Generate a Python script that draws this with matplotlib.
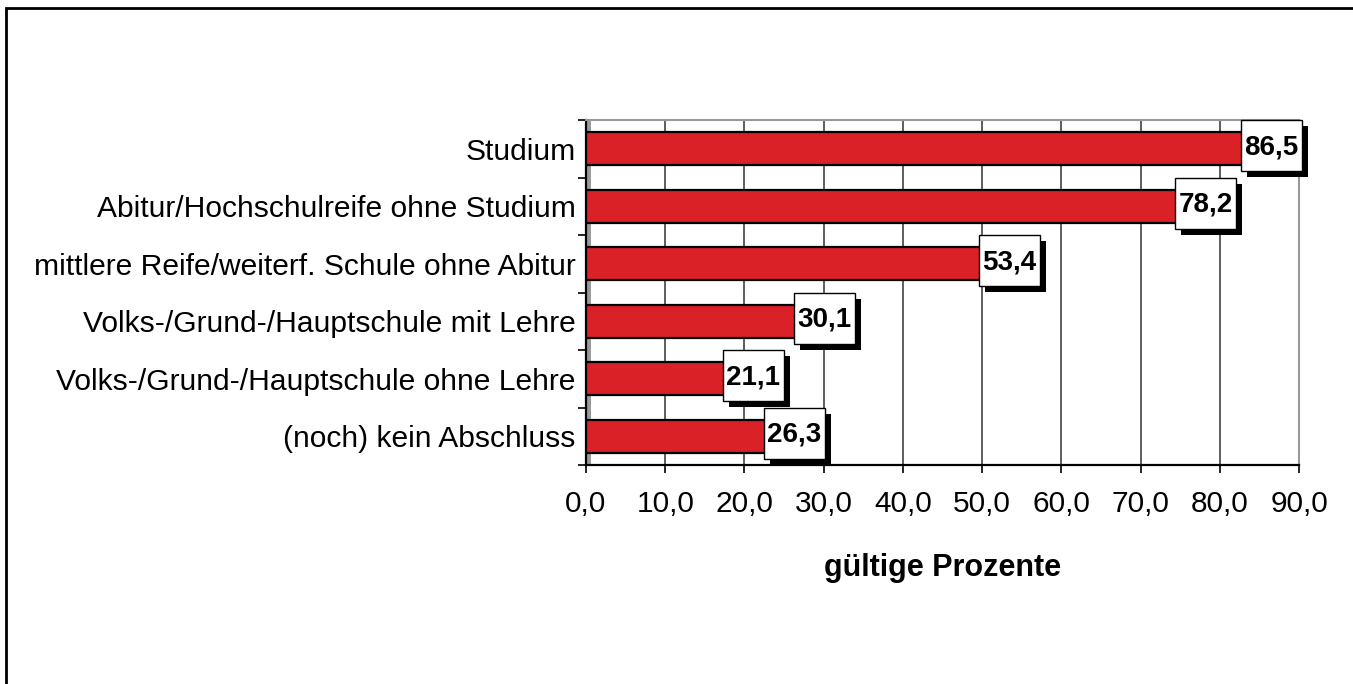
import matplotlib.pyplot as plt
from matplotlib.patches import Rectangle
from matplotlib.ticker import FixedLocator

plt.rcParams['font.family'] = ['Liberation Sans', 'DejaVu Sans']

# Daten
kategorien = ['Studium',
              'Abitur/Hochschulreife ohne Studium',
              'mittlere Reife/weiterf. Schule ohne Abitur',
              'Volks-/Grund-/Hauptschule mit Lehre',
              'Volks-/Grund-/Hauptschule ohne Lehre',
              '(noch) kein Abschluss']
werte = [86.5, 78.2, 53.4, 30.1, 21.1, 26.3]
x_ticks = [0, 10, 20, 30, 40, 50, 60, 70, 80, 90]
x_titel = 'gültige Prozente'

W, H = 1353, 684
fig = plt.figure(figsize=(W / 100, H / 100), dpi=100)
ax = fig.add_axes([586 / W, 1 - 465 / H, (1299 - 586) / W, (465 - 120) / H])

# Rahmen um die ganze Grafik
fig.patches.append(Rectangle((6 / W, -0.1), 1.2, 1 - 8 / H + 0.1,
                             transform=fig.transFigure, fill=False,
                             edgecolor='black', lw=2, zorder=0))

y = list(range(len(kategorien)))
ax.barh(y, werte, height=0.57, color='#DA2128', edgecolor='black',
        linewidth=1.6, zorder=3)

ax.set_xlim(0, 90)
ax.set_ylim(len(kategorien) - 0.5, -0.5)
ax.set_xticks(x_ticks)
ax.set_xticklabels([f'{t:.1f}'.replace('.', ',') for t in x_ticks], fontsize=21.5)
ax.set_yticks(y)
ax.set_yticklabels(kategorien, fontsize=21.6)
ax.yaxis.set_minor_locator(FixedLocator([i - 0.5 for i in range(len(kategorien) + 1)]))
ax.tick_params(axis='y', which='major', length=0, pad=7.5)
ax.tick_params(axis='y', which='minor', length=6, width=1.2, color='black', direction='out')
ax.tick_params(axis='x', length=6, width=1.2, color='black', pad=12)
ax.grid(axis='x', color='#505050', lw=1.3, zorder=1)
ax.set_xlabel(x_titel, fontsize=22, fontweight='bold', labelpad=25)

for s in ['top', 'right']:
    ax.spines[s].set_color('#999999')
    ax.spines[s].set_linewidth(1.5)
for s in ['left', 'bottom']:
    ax.spines[s].set_color('black')
    ax.spines[s].set_linewidth(1.6)

# graue Wand links
ax.add_patch(Rectangle((0.0015, 0), 4 / 713, 1, transform=ax.transAxes,
                       color='#9a9a9a', zorder=2, lw=0))

# Wertelabels mit Schatten
bw = 61 * 90 / 713
bh = 51 / 57.5
sx = 6 * 90 / 713
sy = 6 / 57.5
for i, v in enumerate(werte):
    cx, cy = v, i - 0.05
    ax.add_patch(Rectangle((cx - bw / 2 + sx, cy - bh / 2 + sy), bw, bh,
                           facecolor='black', edgecolor='black', lw=0,
                           zorder=4, clip_on=False))
    ax.add_patch(Rectangle((cx - bw / 2, cy - bh / 2), bw, bh,
                           facecolor='white', edgecolor='black', lw=1,
                           zorder=5, clip_on=False))
    ax.text(cx, cy + 0.02, f'{v:.1f}'.replace('.', ','), ha='center', va='center',
            fontsize=20, fontweight='bold', zorder=6)

fig.savefig('out.png', dpi=100)
